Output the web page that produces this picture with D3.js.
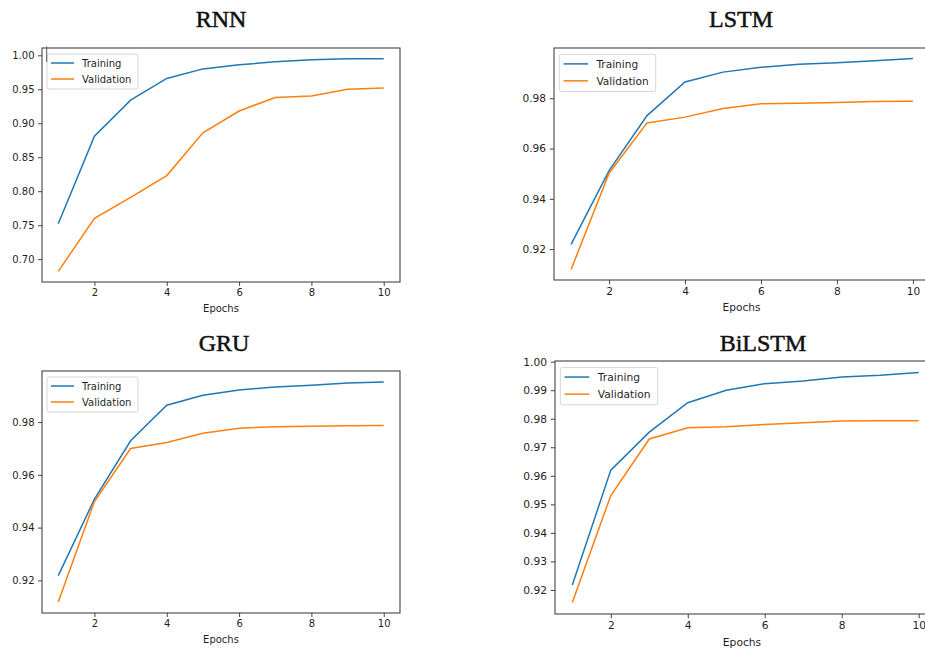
<!DOCTYPE html>
<html>
  <head>
    <script src="https://d3js.org/d3.v7.min.js"></script>
    <style>
      body { margin: 0; background: #fff; }
    </style>
  </head>
  <body>
    <div id="chart"></div>

    <script>
      // values
      const epochs = [1, 2, 3, 4, 5, 6, 7, 8, 9, 10];
      const seriesNames = ["Training", "Validation"];
      const xTicks = [2, 4, 6, 8, 10];

      const rnnTrain = [0.752, 0.881, 0.934, 0.966, 0.980, 0.986, 0.9905, 0.9936, 0.9948, 0.9951];
      const rnnVal = [0.682, 0.760, 0.791, 0.823, 0.886, 0.918, 0.938, 0.940, 0.950, 0.952];
      const rnnTicks = [0.70, 0.75, 0.80, 0.85, 0.90, 0.95, 1.00];

      const lstmTrain = [0.9219, 0.9512, 0.9731, 0.9865, 0.9904, 0.9923, 0.9935, 0.9941, 0.9949, 0.9958];
      const lstmVal = [0.9119, 0.9502, 0.9702, 0.9725, 0.9759, 0.9778, 0.9780, 0.9783, 0.9787, 0.9788];
      const lstmTicks = [0.92, 0.94, 0.96, 0.98];

      const gruTrain = [0.9218, 0.9508, 0.9729, 0.9864, 0.9902, 0.9922, 0.9933, 0.9940, 0.9948, 0.9952];
      const gruVal = [0.9118, 0.9499, 0.9700, 0.9723, 0.9758, 0.9777, 0.9782, 0.9784, 0.9786, 0.9787];
      const gruTicks = [0.92, 0.94, 0.96, 0.98];

      const bilstmTrain = [0.9217, 0.9620, 0.9753, 0.9856, 0.9900, 0.9923, 0.9932, 0.9946, 0.9952, 0.9962];
      const bilstmVal = [0.9156, 0.9531, 0.9729, 0.9768, 0.9772, 0.9780, 0.9786, 0.9792, 0.9793, 0.9793];
      const bilstmTicks = [0.92, 0.93, 0.94, 0.95, 0.96, 0.97, 0.98, 0.99, 1.00];

      const colors = ["#1f77b4", "#ff7f0e"];

      const panels = [
        { title: "RNN", train: rnnTrain, val: rnnVal, ticks: rnnTicks,
          left: 42, right: 400, top: 48, bottom: 282, s: 1, tx: 221, ty: 27 },
        { title: "LSTM", train: lstmTrain, val: lstmVal, ticks: lstmTicks,
          left: 554, right: 930, top: 48, bottom: 280, s: 1.06, tx: 741, ty: 27 },
        { title: "GRU", train: gruTrain, val: gruVal, ticks: gruTicks,
          left: 42, right: 400, top: 371, bottom: 613, s: 1, tx: 224, ty: 351 },
        { title: "BiLSTM", train: bilstmTrain, val: bilstmVal, ticks: bilstmTicks,
          left: 555, right: 936, top: 361, bottom: 614, s: 1.07, tx: 763, ty: 351 }
      ];

      const width = 925;
      const height = 650;

      const svg = d3.select("#chart")
        .append("svg")
        .attr("width", width)
        .attr("height", height)
        .style("font-family", "'DejaVu Sans', sans-serif");

      function drawPanel(p) {
        const fs = 10 * p.s;
        const all = p.train.concat(p.val);
        const lo = d3.min(all), hi = d3.max(all);
        const pad = (hi - lo) * 0.05;

        const x = d3.scaleLinear().domain([0.55, 10.45]).range([p.left, p.right]);
        const y = d3.scaleLinear().domain([lo - pad, hi + pad]).range([p.bottom, p.top]);

        const g = svg.append("g");

        // title
        svg.append("text")
          .attr("x", p.tx)
          .attr("y", p.ty)
          .attr("text-anchor", "middle")
          .style("font-family", "'Liberation Serif', serif")
          .style("font-size", "24px")
          .style("fill", "#111")
          .style("stroke", "#111")
          .style("stroke-width", 0.5)
          .text(p.title);

        // axes
        const xAxis = g.append("g")
          .attr("transform", `translate(0, ${p.bottom})`)
          .call(d3.axisBottom(x).tickValues(xTicks).tickFormat(d3.format("d"))
            .tickSize(4 * p.s).tickPadding(3 * p.s));
        const yAxis = g.append("g")
          .attr("transform", `translate(${p.left}, 0)`)
          .call(d3.axisLeft(y).tickValues(p.ticks).tickFormat(d3.format(".2f"))
            .tickSize(4 * p.s).tickPadding(3.5 * p.s));
        [xAxis, yAxis].forEach(a => {
          a.select(".domain").remove();
          a.selectAll("line").attr("stroke", "#444");
          a.selectAll("text")
            .style("font-family", "'DejaVu Sans', sans-serif")
            .style("font-size", fs + "px")
            .attr("fill", "#1f1f1f");
        });

        // lines
        const line = d3.line().x((d, i) => x(epochs[i])).y(d => y(d));
        [p.train, p.val].forEach((vals, k) => {
          g.append("path")
            .datum(vals)
            .attr("fill", "none")
            .attr("stroke", colors[k])
            .attr("stroke-width", 1.5)
            .attr("d", line);
        });

        // frame
        g.append("rect")
          .attr("x", p.left)
          .attr("y", p.top)
          .attr("width", p.right - p.left)
          .attr("height", p.bottom - p.top)
          .attr("fill", "none")
          .attr("stroke", "#444")
          .attr("stroke-width", 1.1);

        // x label
        g.append("text")
          .attr("x", (p.left + Math.min(p.right, width)) / 2 + (p.right > width ? 2 : 0))
          .attr("y", p.bottom + 29.5 * p.s)
          .attr("text-anchor", "middle")
          .style("font-size", fs + "px")
          .attr("fill", "#1f1f1f")
          .text("Epochs");

        // legend
        const lg = g.append("g").attr("transform", `translate(${p.left + 5 * p.s}, ${p.top + 6 * p.s})`);
        lg.append("rect")
          .attr("width", 91 * p.s)
          .attr("height", 35 * p.s)
          .attr("rx", 2)
          .attr("fill", "white")
          .attr("fill-opacity", 0.8)
          .attr("stroke", "#d6d6d6");
        seriesNames.forEach((name, k) => {
          const cy = (9 + 16 * k) * p.s;
          lg.append("line")
            .attr("x1", 4 * p.s).attr("x2", 27 * p.s)
            .attr("y1", cy).attr("y2", cy)
            .attr("stroke", colors[k])
            .attr("stroke-width", 1.5);
          lg.append("text")
            .attr("x", 35 * p.s)
            .attr("y", cy)
            .attr("dy", "0.35em")
            .style("font-size", fs + "px")
            .attr("fill", "#1f1f1f")
            .text(name);
        });
      }

      panels.forEach(drawPanel);

      // small stray mark at the top left of the first panel
      svg.append("line")
        .attr("x1", 46.7).attr("x2", 46.7)
        .attr("y1", 46.5).attr("y2", 62)
        .attr("stroke", "#555")
        .attr("stroke-width", 1);
    </script>
  </body>
</html>
